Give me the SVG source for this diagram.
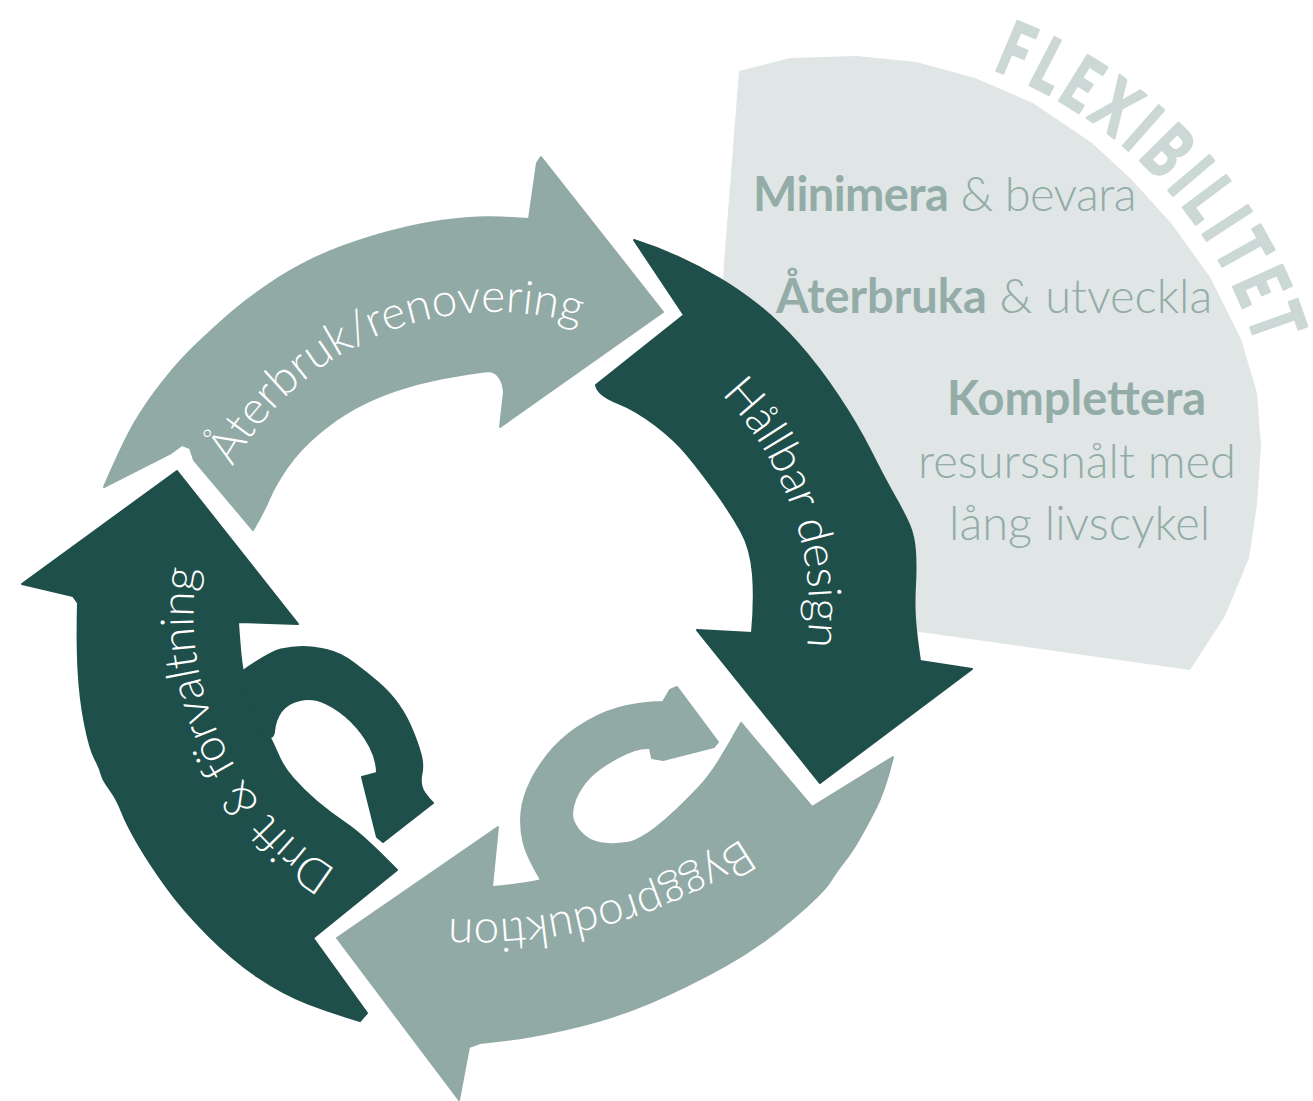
<svg xmlns="http://www.w3.org/2000/svg" width="1313" height="1101" viewBox="0 0 1313 1101">
  <style>
    .dark { fill: #1f4f4b; stroke: #1f4f4b; stroke-width: 2; stroke-linejoin: round; }
    .light { fill: #91aaa5; stroke: #91aaa5; stroke-width: 2; stroke-linejoin: round; }
    .sector { fill: #e0e6e5; }
    .lbl { font-family: Lato, "Open Sans", sans-serif; font-weight: 300; font-size: 46px; fill: #ffffff; }
    .st { font-family: Lato, "Open Sans", sans-serif; font-size: 47px; fill: #93aca7; font-weight: 300; }
    .st .b { font-weight: 700; }
    .flex { font-family: Lato, "Open Sans", sans-serif; font-weight: 900; font-size: 74px; letter-spacing: 10px; fill: #cbd8d5; stroke: #cbd8d5; stroke-width: 2.5; stroke-linejoin: round; }
  </style>
  <defs>
    <path id="p-flex" d="M992.6,69.4 A437,437 0 0 1 1270.4,400.9"/>
    <path id="p-ater" d="M232.6,466.6 A300,300 0 0 1 645,352.2"/>
    <path id="p-hall" d="M720.9,393.9 A314,314 0 0 1 798.3,693.3"/>
    <path id="p-bygg" d="M742,838 A470,470 0 0 1 398.4,912.9"/>
    <path id="p-drift" d="M337,870 A300,300 0 0 1 212,510"/>
  </defs>
  <rect width="1313" height="1101" fill="#ffffff"/>

  <g id="flexibilitet">
    <path class="sector" d="M739,71 L790,58 L857,56 L916,62 L975,78 L1033,103 L1092,143 L1131,179 L1171,223 L1210,277 L1241,339 L1257,393 L1261,446 L1257,504 L1249,558 L1225,616 L1190,670 L920,632 L800,600 L722,300 L724,263 Z"/>
    <text class="flex"><textPath href="#p-flex" textLength="402" lengthAdjust="spacingAndGlyphs">FLEXIBILITET</textPath></text>
    <text class="st" x="753" y="211" letter-spacing="-0.6"><tspan class="b">Minimera</tspan> &amp; bevara</text>
    <text class="st" x="776" y="313"><tspan class="b">Återbruka</tspan> &amp; utveckla</text>
    <text class="st" x="947" y="415"><tspan class="b">Komplettera</tspan></text>
    <text class="st" x="918" y="478">resurssnålt med</text>
    <text class="st" x="949" y="540">lång livscykel</text>
  </g>

  <g id="aterbruk">
    <path class="light" d="M104,487 Q123,443 134.5,423 Q146,403 163,381.5 Q180,360 197.5,343.5 Q215,327 230.5,313.5 Q246,300 268,285 Q290,270 314,258.5 Q338,247 372.5,236.5 Q407,226 440.5,221 Q474,216 501.5,217.5 L529,219 L537,163 L541,157 L663,312 L500,427 L504,392 Q502,372 488,371 Q464,374 441,378.5 Q418,383 397,390 Q376,397 357,407 Q338,417 318.5,433.5 Q299,450 287,467.5 Q275,485 269,499 Q263,513 253,530 L194,460 L190,448 L182,445 L171,453 Z"/>
    <text class="lbl"><textPath href="#p-ater" textLength="405" lengthAdjust="spacing">Återbruk/renovering</textPath></text>
  </g>

  <g id="hallbar">
    <path class="dark" d="M634,240 Q656,247 678,257 Q700,267 719.5,278.5 Q739,290 758.5,305.5 Q778,321 798,343.5 Q818,366 837.5,395 Q857,424 870.5,451 Q884,478 894,495.5 Q904,513 909,524.5 Q914,536 915,551.5 Q916,567 915,585 Q914,603 915,618.5 Q916,634 920,661 L972,669 L820,783 L697,630 L752,633 Q755,600 753,574.5 Q751,549 741,531 Q731,513 715.5,491.5 Q700,470 687.5,455 Q675,440 655.5,425 Q636,410 617,402.5 Q598,395 596,385 L684,315 Z"/>
    <text class="lbl"><textPath href="#p-hall" textLength="276" lengthAdjust="spacing">Hållbar design</textPath></text>
  </g>

  <g id="bygg">
    <path class="light" d="M741,723 L812,807 L893,757 Q885,790 875.5,808.5 Q866,827 858.5,840 Q851,853 844,861.5 Q837,870 830,881.5 Q823,893 791,920 Q759,947 723,967 Q687,987 651.5,1002 Q616,1017 583.5,1025 Q551,1033 530,1036.5 Q509,1040 480,1043 L469,1047 L459,1100 L337,938 L498,827 L492,887 Q544,883 567.5,871.5 Q591,860 603.5,854.5 Q616,849 630,843 Q644,837 655,828.5 Q666,820 676.5,810 Q687,800 698,788.5 Q709,777 719.5,760 Q730,743 741,723 Z"/>
    <path class="light" d="M565,885 L543,883 Q527,857 523.5,842 Q520,827 521.5,812 Q523,797 531.5,780 Q540,763 553.5,748 Q567,733 587,721.5 Q607,710 627,706 Q647,702 663,702 L670,690 L677,687 L718,742 L714,747 L663,760 L652,758 L650,748 Q637,747 618.5,757 Q600,767 590,777 Q580,787 575,800 Q570,813 573.5,821.5 Q577,830 585,836.5 Q593,843 608,844 Q623,845 636.5,841 Q650,837 660,830 L620,865 Z"/>
    <text class="lbl"><textPath href="#p-bygg" textLength="310" lengthAdjust="spacing">Byggproduktion</textPath></text>
  </g>

  <g id="drift">
    <path class="dark" d="M22,584 L177,471 L298,624 L238,622 Q240,653 242,666.5 Q244,680 251,697.5 Q258,715 265.5,729 Q273,743 278,755 Q283,767 293,778.5 Q303,790 316.5,801.5 Q330,813 346.5,824 Q363,835 397,870 L313,938 L367,1013 L360,1021 Q333,1013 308,1003.5 Q283,994 258,977 Q233,960 208,935 Q183,910 166.5,887 Q150,864 138.5,844.5 Q127,825 122,812 Q117,799 110,789.5 Q103,780 101.5,774 Q100,768 95,758.5 Q90,749 85,724 Q80,699 78.5,670.5 Q77,642 78,603 L73,596 Z"/>
    <path class="dark" d="M245,700 L240,673 Q270,652 281,649.5 Q292,647 302.5,647 Q313,647 326.5,650 Q340,653 353.5,663 Q367,673 378.5,683 Q390,693 398.5,705 Q407,717 413.5,733.5 Q420,750 421.5,758.5 Q423,767 421.5,773.5 Q420,780 421.5,786.5 Q423,793 433,803 L383,842 L377,837 L362,777 L377,773 Q377,760 370,746.5 Q363,733 351.5,721.5 Q340,710 326.5,703.5 Q313,697 300,700 Q287,703 281,711.5 Q275,720 274,731.5 Q273,743 260,730 Z"/>
    <text class="lbl"><textPath href="#p-drift" textLength="352" lengthAdjust="spacing">Drift &amp; förvaltning</textPath></text>
  </g>

  <g id="connectors"></g>
</svg>
